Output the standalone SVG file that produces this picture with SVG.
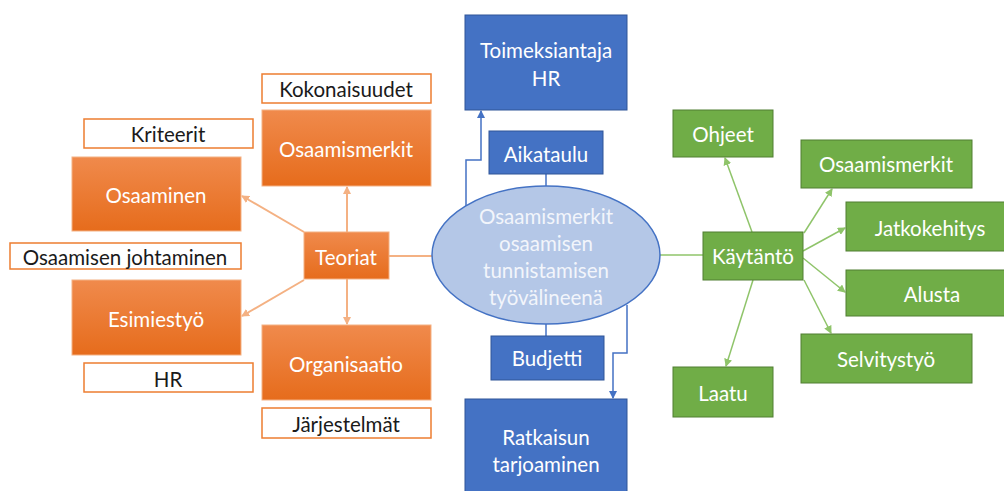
<svg xmlns="http://www.w3.org/2000/svg" width="1004" height="491" viewBox="0 0 1004 491">
  <style>
    text { font-family: "Lato", "Open Sans", "Liberation Sans", sans-serif; font-size: 20.5px; text-anchor: middle; dominant-baseline: central; }
    .org rect { fill: url(#orangeGrad); stroke: #f4b183; stroke-width: 1; }
    .org text, .blue text, .green text { fill: #ffffff; }
    .lbl rect { fill: #ffffff; stroke: #ed7d31; stroke-width: 1.5; }
    .lbl text { fill: #1a1a1a; }
    .blue rect { fill: #4472c4; stroke: #2f5597; stroke-width: 1; }
    .green rect { fill: #70ad47; stroke: #507e32; stroke-width: 1; }
    .hub ellipse { fill: #b4c7e7; stroke: #4472c4; stroke-width: 1.5; }
    .hub text { fill: #f2f5fb; }
    .c-org { stroke: #f4b183; stroke-width: 2; fill: none; }
    .c-blue { stroke: #4472c4; stroke-width: 1.5; fill: none; }
    .c-green { stroke: #8fc46a; stroke-width: 1.5; fill: none; }
  </style>
  <defs>
    <linearGradient id="orangeGrad" x1="0" y1="0" x2="0" y2="1">
      <stop offset="0" stop-color="#f08a4c"/>
      <stop offset="1" stop-color="#e66c1c"/>
    </linearGradient>
    <marker id="arrOrg" markerWidth="8" markerHeight="8" refX="7" refY="4" orient="auto" markerUnits="userSpaceOnUse">
      <path d="M0,0 L8,4 L0,8 z" fill="#f4b183"/>
    </marker>
    <marker id="arrBlue" markerWidth="8" markerHeight="8" refX="7" refY="4" orient="auto" markerUnits="userSpaceOnUse">
      <path d="M0,0 L8,4 L0,8 z" fill="#4472c4"/>
    </marker>
    <marker id="arrGreen" markerWidth="8" markerHeight="8" refX="7" refY="4" orient="auto" markerUnits="userSpaceOnUse">
      <path d="M0,0 L8,4 L0,8 z" fill="#8fc46a"/>
    </marker>
  </defs>

  <rect x="0" y="0" width="1004" height="491" fill="#ffffff"/>

  <!-- connectors -->
  <g id="connectors">
    <line class="c-org" x1="347" y1="232" x2="347" y2="187" marker-end="url(#arrOrg)"/>
    <line class="c-org" x1="304" y1="232" x2="242" y2="196" marker-end="url(#arrOrg)"/>
    <line class="c-org" x1="304" y1="280" x2="242" y2="316" marker-end="url(#arrOrg)"/>
    <line class="c-org" x1="347" y1="279" x2="347" y2="324" marker-end="url(#arrOrg)"/>
    <line class="c-org" x1="389" y1="256" x2="433" y2="256"/>

    <line class="c-blue" x1="546" y1="174" x2="546" y2="187"/>
    <line class="c-blue" x1="546" y1="324" x2="546" y2="336"/>
    <polyline class="c-blue" points="466,208 466,160 481,160 481,111" marker-end="url(#arrBlue)"/>
    <polyline class="c-blue" points="627,305 627,353 613,353 613,398" marker-end="url(#arrBlue)"/>

    <line class="c-green" x1="660" y1="255" x2="703" y2="255"/>
    <line class="c-green" x1="752" y1="232" x2="725" y2="158" marker-end="url(#arrGreen)"/>
    <line class="c-green" x1="804" y1="233" x2="832" y2="189" marker-end="url(#arrGreen)"/>
    <line class="c-green" x1="803" y1="251" x2="845" y2="228" marker-end="url(#arrGreen)"/>
    <line class="c-green" x1="803" y1="258" x2="845" y2="292" marker-end="url(#arrGreen)"/>
    <line class="c-green" x1="804" y1="280" x2="831" y2="333" marker-end="url(#arrGreen)"/>
    <line class="c-green" x1="753" y1="280" x2="726" y2="366" marker-end="url(#arrGreen)"/>
  </g>

  <!-- left branch: theory -->
  <g id="kokonaisuudet" class="lbl"><rect x="262" y="74" width="169" height="29"/><text x="346" y="89">Kokonaisuudet</text></g>
  <g id="osaamismerkit-teoria" class="org"><rect x="262" y="110" width="169" height="76"/><text x="346" y="149">Osaamismerkit</text></g>
  <g id="kriteerit" class="lbl"><rect x="84" y="119" width="169" height="29"/><text x="168" y="134">Kriteerit</text></g>
  <g id="osaaminen" class="org"><rect x="72" y="157" width="169" height="74"/><text x="156" y="195">Osaaminen</text></g>
  <g id="teoriat" class="org"><rect x="304" y="232" width="85" height="47"/><text x="346" y="257">Teoriat</text></g>
  <g id="osaamisen-johtaminen" class="lbl"><rect x="10" y="243" width="231" height="26"/><text x="125" y="257">Osaamisen johtaminen</text></g>
  <g id="esimiestyo" class="org"><rect x="72" y="280" width="169" height="75"/><text x="156" y="319">Esimiestyö</text></g>
  <g id="hr" class="lbl"><rect x="84" y="363" width="169" height="29"/><text x="168" y="379">HR</text></g>
  <g id="organisaatio" class="org"><rect x="262" y="325" width="169" height="75"/><text x="346" y="364">Organisaatio</text></g>
  <g id="jarjestelmat" class="lbl"><rect x="262" y="408" width="169" height="30"/><text x="346" y="424">Järjestelmät</text></g>

  <!-- centre -->
  <g id="toimeksiantaja" class="blue"><rect x="465" y="15" width="162" height="95"/><text x="546" y="50">Toimeksiantaja</text><text x="546" y="78">HR</text></g>
  <g id="aikataulu" class="blue"><rect x="489" y="131" width="114" height="43"/><text x="546" y="154">Aikataulu</text></g>
  <g id="hub" class="hub">
    <ellipse cx="546" cy="255" rx="114" ry="69"/>
    <text x="546" y="216">Osaamismerkit</text>
    <text x="546" y="243">osaamisen</text>
    <text x="546" y="270">tunnistamisen</text>
    <text x="546" y="297">työvälineenä</text>
  </g>
  <g id="budjetti" class="blue"><rect x="491" y="336" width="113" height="44"/><text x="547" y="358">Budjetti</text></g>
  <g id="ratkaisun" class="blue"><rect x="465" y="399" width="162" height="95"/><text x="546" y="437">Ratkaisun</text><text x="546" y="464">tarjoaminen</text></g>

  <!-- right branch: practice -->
  <g id="kaytanto" class="green"><rect x="703" y="232" width="100" height="48"/><text x="753" y="256">Käytäntö</text></g>
  <g id="ohjeet" class="green"><rect x="673" y="110" width="100" height="47"/><text x="723" y="134">Ohjeet</text></g>
  <g id="osaamismerkit-kaytanto" class="green"><rect x="801" y="140" width="171" height="48"/><text x="886" y="164">Osaamismerkit</text></g>
  <g id="jatkokehitys" class="green"><rect x="846" y="202" width="160" height="49"/><text x="930" y="228">Jatkokehitys</text></g>
  <g id="alusta" class="green"><rect x="846" y="270" width="160" height="46"/><text x="932" y="294">Alusta</text></g>
  <g id="selvitystyo" class="green"><rect x="801" y="334" width="171" height="49"/><text x="886" y="359">Selvitystyö</text></g>
  <g id="laatu" class="green"><rect x="673" y="367" width="100" height="50"/><text x="723" y="393">Laatu</text></g>
</svg>
